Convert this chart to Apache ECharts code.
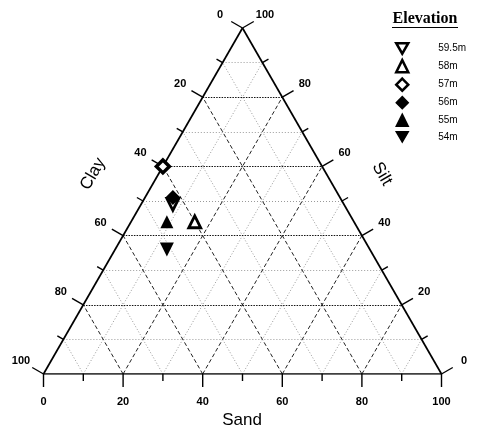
<!DOCTYPE html>
<html>
<head>
<meta charset="utf-8">
<script src="https://cdn.jsdelivr.net/npm/echarts@6/dist/echarts.min.js"></script>
<style>
  html, body { margin: 0; padding: 0; background: #fff; }
  #chart { width: 482px; height: 431px; }
</style>
</head>
<body>
<div id="chart"></div>
<script>
// samples, one per elevation (percent sand / silt / clay)
const elevations = ['59.5m', '58m', '57m', '56m', '55m', '54m'];
const sand = [8, 16, 0, 7, 9, 13];
const silt = [49, 44, 60, 51, 44, 36];
const clay = [43, 40, 40, 42, 47, 51];

const tickValues = [0, 10, 20, 30, 40, 50, 60, 70, 80, 90, 100];
const gridValues = [10, 20, 30, 40, 50, 60, 70, 80, 90];

const H = Math.sqrt(3) / 2;
const DOWN_TRI = 'path://M0,0L10,0L5,8.66Z';

// clay bottom-left, sand bottom-right, silt at the top
function toXY(sa, si, cl) {
    let t = sa + si + cl;
    sa = sa / t * 100;
    si = si / t * 100;
    return [sa + si / 2, si * H];
}

// grid lines of the three families
let gridLines = [];
gridValues.forEach((v) => {
    let major = v % 20 === 0;
    let light = { color: '#8f8f8f', width: 0.9, type: [1, 2], opacity: 1 };
    let dash = { color: '#222', width: 1, type: [4, 2.5], opacity: 1 };
    // constant silt (horizontal)
    gridLines.push({
        coords: [toXY(0, v, 100 - v), toXY(100 - v, v, 0)],
        lineStyle: major ? { color: '#111', width: 1.1, type: [1.5, 1.2], opacity: 1 } : light
    });
    // constant sand
    gridLines.push({
        coords: [toXY(v, 0, 100 - v), toXY(v, 100 - v, 0)],
        lineStyle: major ? dash : light
    });
    // constant clay
    gridLines.push({
        coords: [toXY(100 - v, 0, v), toXY(0, 100 - v, v)],
        lineStyle: major ? dash : light
    });
});

let frame = [
    { coords: [toXY(0, 0, 100), toXY(100, 0, 0)] },
    { coords: [toXY(100, 0, 0), toXY(0, 100, 0)] },
    { coords: [toXY(0, 100, 0), toXY(0, 0, 100)] }
];

// tick rows: x, y, side (0 sand, 1 clay, 2 silt), value
let ticks = [];
tickValues.forEach((v) => {
    ticks.push(toXY(v, 0, 100 - v).concat([0, v]));
    ticks.push(toXY(0, 100 - v, v).concat([1, v]));
    ticks.push(toXY(100 - v, v, 0).concat([2, v]));
});

const dirs = [[0, 1], [-H, -0.5], [H, -0.5]];

function renderTick(params, api) {
    let p = api.coord([api.value(0), api.value(1)]);
    let side = api.value(2);
    let v = api.value(3);
    let d = dirs[side];
    let major = v % 20 === 0;
    let len = major ? 13 : 7;
    let children = [{
        type: 'line',
        shape: { x1: p[0], y1: p[1], x2: p[0] + d[0] * len, y2: p[1] + d[1] * len },
        style: { stroke: '#000', lineWidth: 1.4 }
    }];
    if (major) {
        let off = side === 0 ? 28 : 26;
        children.push({
            type: 'text',
            x: p[0] + d[0] * off,
            y: p[1] + d[1] * off,
            style: {
                text: String(v),
                fill: '#000',
                font: 'bold 11px Arial, "Liberation Sans", sans-serif',
                align: 'center',
                verticalAlign: 'middle'
            }
        });
    }
    return { type: 'group', children: children };
}

const markers = [
    { symbol: DOWN_TRI, size: 12, fill: '#fff', border: 2.8 },
    { symbol: 'triangle', size: 12, fill: '#fff', border: 2.8 },
    { symbol: 'diamond', size: 13, fill: '#fff', border: 3.5 },
    { symbol: 'diamond', size: 15, fill: '#000', border: 0 },
    { symbol: 'triangle', size: 13, fill: '#000', border: 0 },
    { symbol: DOWN_TRI, size: 14, fill: '#000', border: 0 }
];

let pointSeries = elevations.map((name, i) => ({
    name: name,
    type: 'scatter',
    symbol: markers[i].symbol,
    symbolSize: markers[i].size,
    itemStyle: {
        color: markers[i].fill,
        borderColor: '#000',
        borderWidth: markers[i].border,
        opacity: 1
    },
    z: 10,
    data: [toXY(sand[i], silt[i], clay[i])]
}));

// legend icons: open ones keep a thick outline, filled ones get a thin one so they match in size
let legendData = elevations.map((name, i) => ({
    name: name,
    itemStyle: {
        color: markers[i].fill,
        borderColor: '#000',
        borderWidth: markers[i].border ? 2.5 : 1.5
    }
}));

const chart = echarts.init(document.getElementById('chart'), null, { renderer: 'canvas' });

chart.setOption({
    backgroundColor: '#fff',
    animation: false,
    grid: { left: 43.5, right: 40.5, top: 28, bottom: 57 },
    xAxis: { type: 'value', min: 0, max: 100, show: false },
    yAxis: { type: 'value', min: 0, max: 100 * H, show: false },
    legend: {
        orient: 'vertical',
        left: 390,
        top: 37,
        itemWidth: 12,
        itemHeight: 12,
        itemGap: 4,
        data: legendData,
        textStyle: {
            fontSize: 10,
            color: '#000',
            fontFamily: 'Arial, "Liberation Sans", sans-serif',
            padding: [0, 0, 0, 25]
        }
    },
    graphic: [
        {
            type: 'text', x: 425, y: 19,
            style: {
                text: 'Elevation', fill: '#000',
                font: 'bold 16px "Liberation Serif", "Times New Roman", serif',
                align: 'center', verticalAlign: 'middle'
            }
        },
        {
            type: 'line',
            shape: { x1: 392, y1: 27.5, x2: 458, y2: 27.5 },
            style: { stroke: '#000', lineWidth: 1 }
        },
        {
            type: 'text', x: 93, y: 174, rotation: Math.PI / 3,
            style: {
                text: 'Clay', fill: '#000',
                font: '17px Arial, "Liberation Sans", sans-serif',
                align: 'center', verticalAlign: 'middle'
            }
        },
        {
            type: 'text', x: 382, y: 174, rotation: -Math.PI / 3,
            style: {
                text: 'Silt', fill: '#000',
                font: '17px Arial, "Liberation Sans", sans-serif',
                align: 'center', verticalAlign: 'middle'
            }
        },
        {
            type: 'text', x: 242, y: 420,
            style: {
                text: 'Sand', fill: '#000',
                font: '17px Arial, "Liberation Sans", sans-serif',
                align: 'center', verticalAlign: 'middle'
            }
        }
    ],
    series: [
        {
            type: 'lines',
            coordinateSystem: 'cartesian2d',
            silent: true,
            z: 1,
            data: gridLines
        },
        {
            type: 'lines',
            coordinateSystem: 'cartesian2d',
            silent: true,
            z: 3,
            lineStyle: { color: '#000', width: 1.7, type: 'solid', opacity: 1 },
            data: frame
        },
        {
            type: 'custom',
            silent: true,
            z: 4,
            renderItem: renderTick,
            data: ticks
        }
    ].concat(pointSeries)
});
</script>
</body>
</html>
